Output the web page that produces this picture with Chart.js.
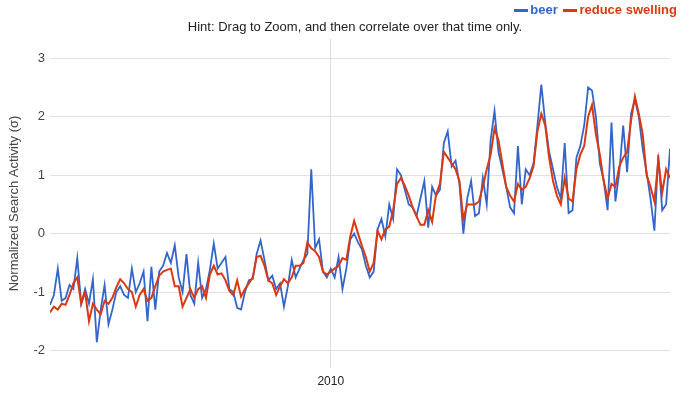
<!DOCTYPE html>
<html>
<head>
<meta charset="utf-8">
<script src="https://cdn.jsdelivr.net/npm/chart.js@4/dist/chart.umd.min.js"></script>
<style>
  html, body { margin: 0; padding: 0; background: #fff; }
  #wrap { position: relative; width: 690px; height: 399px; font-family: Arial, "Liberation Sans", sans-serif; }
  #legend { position: absolute; top: 2px; right: 13px; font-size: 13px; font-weight: bold; white-space: nowrap; }
  #legend span.sw { display: inline-block; width: 14px; height: 3px; vertical-align: middle; margin: 0 2px 0 2px; }
  #hint { position: absolute; top: 19px; left: 0; width: 710px; text-align: center; font-size: 13px; color: #222; }
</style>
</head>
<body>
<div id="wrap">
  <canvas id="chart" width="690" height="399"></canvas>
  <div id="legend">
    <span class="sw" style="background:#3366cc"></span><span style="color:#3366cc">beer</span>
    <span class="sw" style="background:#dc3912"></span><span style="color:#dc3912">reduce swelling</span>
  </div>
  <div id="hint">Hint: Drag to Zoom, and then correlate over that time only.</div>
</div>
<script>
/* monthly samples, Jan 2004 onwards */
const startYear = 2004;
const xTicks = [2010];
const yTicks = [-2, -1, 0, 1, 2, 3];

const beer = [
  -1.22, -1.05, -0.6, -1.15, -1.1, -0.88, -0.95, -0.42, -1.2, -0.95,
  -1.2, -0.78, -1.86, -1.3, -0.88, -1.55, -1.3, -1.0, -0.9, -1.05,
  -1.1, -0.6, -1.0, -0.85, -0.65, -1.5, -0.57, -1.3, -0.65, -0.55,
  -0.33, -0.5, -0.2, -0.75, -1.0, -0.35, -1.05, -1.2, -0.5, -1.1,
  -0.95, -0.62, -0.17, -0.6, -0.5, -0.4, -0.95, -1.0, -1.27, -1.3,
  -1.0, -0.8, -0.78, -0.35, -0.12, -0.45, -0.8, -0.72, -0.95, -0.85,
  -1.25, -0.9, -0.45, -0.75, -0.6, -0.45, -0.35, 1.1, -0.25, -0.1,
  -0.65, -0.75, -0.6, -0.75, -0.4, -0.95, -0.6, -0.1, 0.0, -0.15,
  -0.27, -0.55, -0.75, -0.65, 0.07, 0.25, -0.05, 0.5, 0.25, 1.1,
  1.0, 0.75, 0.5, 0.45, 0.3, 0.6, 0.9, 0.1, 0.8, 0.65,
  0.75, 1.55, 1.75, 1.15, 1.25, 0.85, 0.0, 0.6, 0.9, 0.3,
  0.35, 0.95, 0.5, 1.6, 2.1, 1.4, 1.1, 0.8, 0.45, 0.35,
  1.5, 0.5, 1.1, 1.0, 1.2, 1.85, 2.55, 1.9, 1.4, 1.1,
  0.8, 0.6, 1.55, 0.35, 0.4, 1.3, 1.5, 1.85, 2.5, 2.45,
  2.0, 1.2, 0.9, 0.4, 1.9, 0.55, 1.05, 1.85, 1.05, 2.05,
  2.3, 2.0, 1.45, 1.05, 0.6, 0.05, 1.35, 0.4, 0.5, 1.45
];

const reduceSwelling = [
  -1.35, -1.25, -1.3, -1.2, -1.22, -1.05, -0.85, -0.75, -1.2, -1.0,
  -1.5, -1.2, -1.3, -1.38, -1.15, -1.2, -1.1, -0.92, -0.78, -0.85,
  -0.95, -1.0, -1.25, -1.05, -0.95, -1.15, -1.1, -0.9, -0.72, -0.65,
  -0.62, -0.6, -0.9, -0.9, -1.25, -1.1, -0.95, -1.1, -0.95, -0.9,
  -1.1, -0.7, -0.55, -0.7, -0.68, -0.8, -0.98, -1.05, -0.8, -1.08,
  -0.95, -0.85, -0.75, -0.4, -0.38, -0.55, -0.8, -0.85, -1.05, -0.9,
  -0.78, -0.85, -0.75, -0.55, -0.55, -0.5, -0.15, -0.25, -0.3, -0.4,
  -0.65, -0.7, -0.65, -0.6, -0.55, -0.42, -0.45, -0.05, 0.22, 0.0,
  -0.21, -0.4, -0.65, -0.5, 0.05, -0.1, 0.07, 0.12, 0.4, 0.85,
  0.95, 0.82, 0.65, 0.45, 0.3, 0.15, 0.15, 0.4, 0.2, 0.67,
  0.85, 1.4, 1.3, 1.2, 1.1, 0.9, 0.25, 0.5, 0.5, 0.5,
  0.55, 0.8, 1.1, 1.35, 1.8, 1.6, 1.2, 0.8, 0.65, 0.55,
  0.85, 0.75, 0.8, 0.95, 1.15, 1.75, 2.05, 1.85, 1.3, 0.9,
  0.65, 0.5, 0.95, 0.6, 0.55, 1.1, 1.35, 1.5, 2.0, 2.2,
  1.7, 1.35, 0.9, 0.6, 0.85, 0.8, 1.15, 1.3, 1.4, 1.93,
  2.35, 2.05, 1.7, 1.0, 0.8, 0.55, 1.25, 0.7, 1.1, 0.95
];

const toPoints = arr => arr.map((v, i) => ({ x: startYear + i / 12, y: v }));
const font = { family: 'Arial, "Liberation Sans", sans-serif', size: 12 };

new Chart(document.getElementById('chart'), {
  type: 'line',
  data: {
    datasets: [
      { label: 'reduce swelling', data: toPoints(reduceSwelling), borderColor: '#dc3912', borderWidth: 2, order: 0 },
      { label: 'beer', data: toPoints(beer), borderColor: '#3366cc', borderWidth: 1.8, order: 1 }
    ]
  },
  options: {
    responsive: false,
    animation: false,
    layout: { padding: { top: 39, right: 20, left: 0, bottom: 0 } },
    elements: { point: { radius: 0 }, line: { tension: 0 } },
    plugins: { legend: { display: false }, tooltip: { enabled: false } },
    scales: {
      x: {
        type: 'linear',
        min: 2004,
        max: 2017.25,
        afterBuildTicks: s => { s.ticks = xTicks.map(v => ({ value: v })); },
        afterFit: s => { s.height = 31; },
        ticks: { color: '#222', font, padding: 6, maxRotation: 0, callback: v => String(v) },
        grid: { color: '#dcdcdc', drawTicks: false },
        border: { display: false }
      },
      y: {
        min: -2.3,
        max: 3.33,
        afterBuildTicks: s => { s.ticks = yTicks.map(v => ({ value: v })); },
        afterFit: s => { s.width = 50; },
        ticks: { color: '#444', font: { ...font, size: 13 }, padding: 5 },
        grid: { color: '#e0e0e0', drawTicks: false },
        border: { display: false },
        title: { display: true, text: 'Normalized Search Activity (σ)', color: '#444', font: { ...font, size: 13 }, padding: 7 }
      }
    }
  }
});
</script>
</body>
</html>
